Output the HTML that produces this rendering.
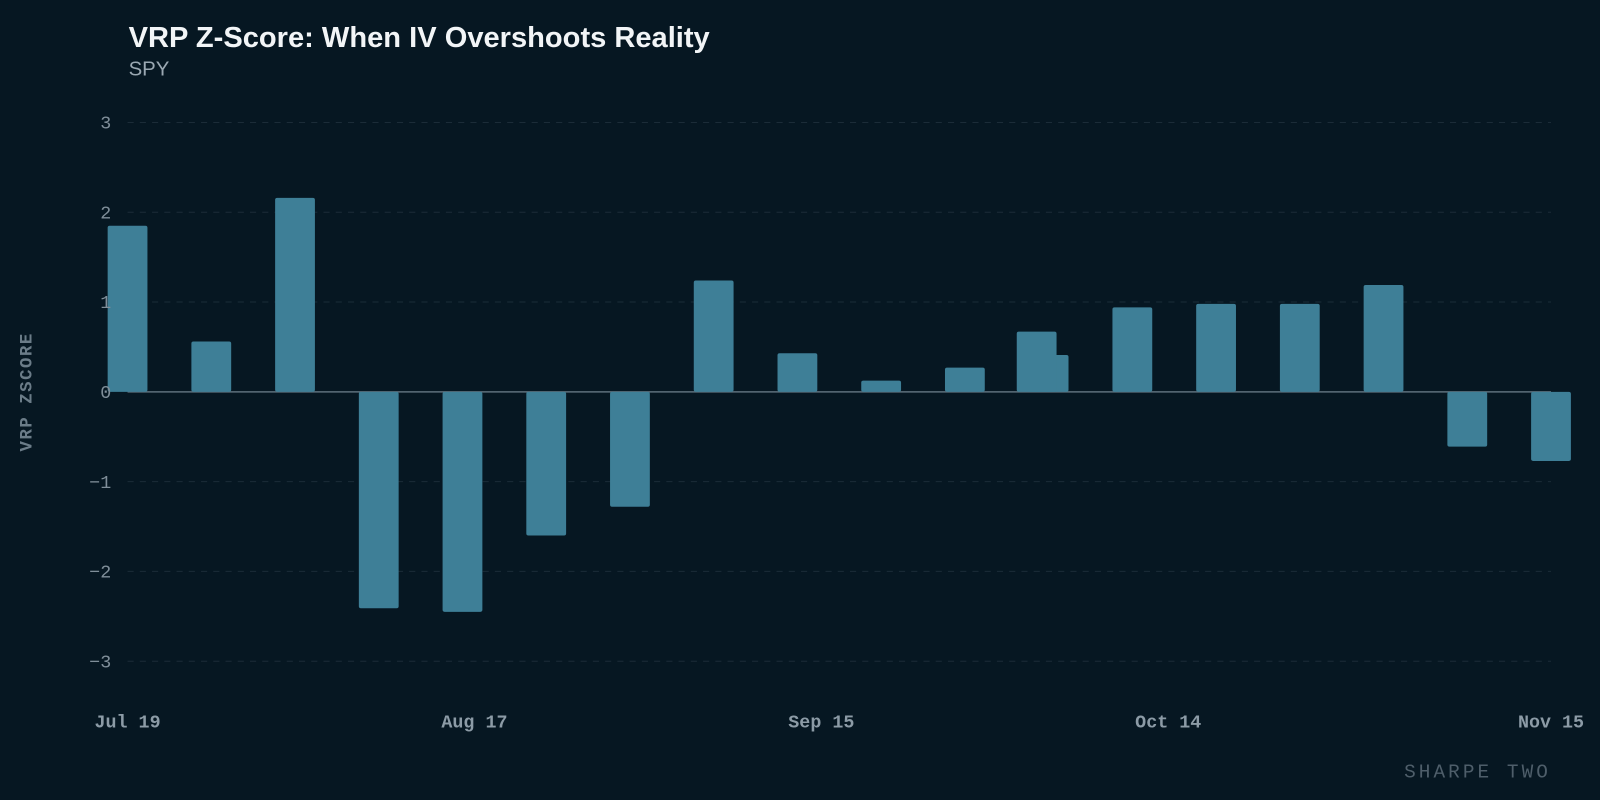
<!DOCTYPE html>
<html><head><meta charset="utf-8"><style>
html,body{margin:0;padding:0;background:#061722;}
svg{display:block;font-family:"Liberation Sans",sans-serif;}
.mono{font-family:"Liberation Mono",monospace;}
</style></head><body>
<svg id="chart" width="1600" height="800" viewBox="0 0 1600 800">
<rect width="1600" height="800" fill="#061722"/>
<g transform="scale(1.0204)">
<text x="126" y="46" fill="#f2f5f7" font-size="28.5" font-weight="bold">VRP Z-Score: When IV Overshoots Reality</text>
<text x="126" y="74" fill="#9aa8b2" font-size="20">SPY</text>
<text class="mono" x="31" y="384" fill="#6b7c88" font-size="17" font-weight="bold" letter-spacing="1.5" text-anchor="middle" transform="rotate(-90 31 384)">VRP ZSCORE</text>
<text class="mono" x="1520" y="762" fill="#4e5e6a" font-size="19" letter-spacing="3" text-anchor="end">SHARPE TWO</text>
<g id="grid"></g><g id="bars"></g><g id="axes"></g>
</g>
</svg>
<script>
const yTicks=[-3,-2,-1,0,1,2,3];
const xTickDays=[0,29,58,87,119];
const xTickLabels=["Jul 19","Aug 17","Sep 15","Oct 14","Nov 15"];
const barDays=[0,7,14,21,28,35,42,49,56,63,70,77,76,84,91,98,105,112,119];
const barValues=[1.85,0.56,2.16,-2.41,-2.45,-1.60,-1.28,1.24,0.43,0.125,0.27,0.41,0.67,0.94,0.98,0.98,1.19,-0.61,-0.77];
const NS="http://www.w3.org/2000/svg";
function xS(d){return 125+d*(1395/119);}
function yS(v){return 384-v*88;}
const grid=document.getElementById('grid'),bars=document.getElementById('bars'),axes=document.getElementById('axes');
yTicks.forEach(t=>{
  const l=document.createElementNS(NS,'line');
  l.setAttribute('x1',125);l.setAttribute('x2',1520);l.setAttribute('y1',yS(t));l.setAttribute('y2',yS(t));
  l.setAttribute('stroke',t===0?'#5d6f7b':'#1b2c38');l.setAttribute('stroke-width',t===0?1.5:1);
  if(t!==0)l.setAttribute('stroke-dasharray','6 6');
  
  
  grid.appendChild(l);
  const tx=document.createElementNS(NS,'text');
  tx.setAttribute('x',109);tx.setAttribute('y',yS(t)+6);tx.setAttribute('text-anchor','end');
  tx.setAttribute('fill','#7f8e99');tx.setAttribute('font-size','18');tx.setAttribute('class','mono');
  tx.textContent=t<0?'\u2212'+Math.abs(t):String(t);
  
  
  axes.appendChild(tx);
});
barDays.forEach((d,i)=>{
  const v=barValues[i];
  const r=document.createElementNS(NS,'rect');
  const w=39;
  r.setAttribute('x',xS(d)-w/2);r.setAttribute('width',w);
  r.setAttribute('y',Math.min(yS(v),yS(0)));r.setAttribute('height',Math.abs(yS(v)-yS(0)));
  r.setAttribute('rx',2);
  r.setAttribute('fill','#3e7f97');
  
  
  bars.appendChild(r);
});
xTickDays.forEach((d,i)=>{
  const tx=document.createElementNS(NS,'text');
  tx.setAttribute('x',xS(d));tx.setAttribute('y',713);tx.setAttribute('text-anchor','middle');
  tx.setAttribute('fill','#8c9ba6');tx.setAttribute('font-size','18');tx.setAttribute('font-weight','bold');tx.setAttribute('class','mono');
  tx.textContent=xTickLabels[i];
  
  
  axes.appendChild(tx);
});
</script>
</body></html>
